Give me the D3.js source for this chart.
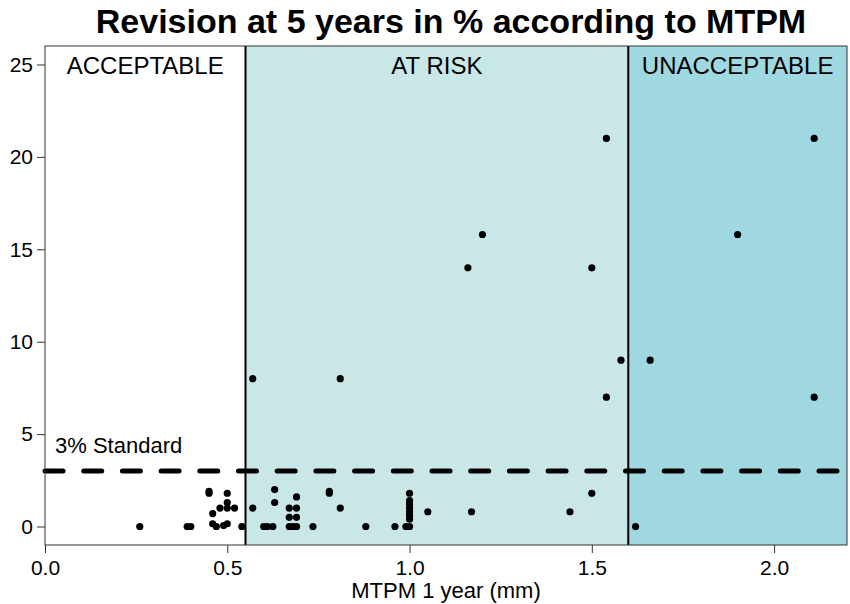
<!DOCTYPE html>
<html>
<head>
<meta charset="utf-8">
<script src="https://cdn.jsdelivr.net/npm/d3@7"></script>
<style>
  body { margin: 0; background: #fff; }
  svg { display: block; font-family: "Liberation Sans", Arial, sans-serif; }
</style>
</head>
<body>
<svg id="chart" width="850" height="604"></svg>
<script>
// MTPM at 1 year (mm) and revision at 5 years (%)
var mtpm = [
  0.57, 0.81, 1.16, 1.20, 1.54, 1.50, 1.58, 1.54, 1.66, 1.90, 2.11, 2.11,
  0.26, 0.39, 0.40,
  0.45, 0.45, 0.46, 0.46, 0.47,
  0.48, 0.50, 0.52, 0.50, 0.50, 0.49, 0.50,
  0.54, 0.57,
  0.60, 0.61, 0.625, 0.63, 0.63,
  0.67, 0.68, 0.69, 0.67, 0.69, 0.67, 0.69, 0.69,
  0.735, 0.78, 0.78, 0.81, 0.88, 0.96, 0.99, 1.00,
  1.00, 1.00, 1.00, 1.00, 1.00, 1.00, 1.00,
  1.05, 1.17, 1.44, 1.50, 1.62
];
var revision = [
  8, 8, 14, 15.8, 21, 14, 9, 7, 9, 15.8, 21, 7,
  0, 0, 0,
  1.9, 1.8, 0.7, 0.15, 0,
  1.0, 1.0, 1.0, 1.8, 1.3, 0.05, 0.15,
  0, 1.0,
  0, 0, 0, 2.0, 1.3,
  0, 0, 0, 0.5, 0.5, 1.0, 1.0, 1.6,
  0, 1.9, 1.8, 1.0, 0, 0, 0, 0,
  0.4, 0.6, 0.8, 1.0, 1.2, 1.4, 1.8,
  0.8, 0.8, 0.8, 1.8, 0
];

// zones on the x axis
var zoneNames = ["ACCEPTABLE", "AT RISK", "UNACCEPTABLE"];
var zoneStart = [0, 0.55, 1.6];
var zoneEnd = [0.55, 1.6, 2.2];
var zoneColors = ["#ffffff", "#c9e7e7", "#a0d8e2"];

var xTicks = [0, 0.5, 1.0, 1.5, 2.0];
var yTicks = [0, 5, 10, 15, 20, 25];
var standard = 3;

var margin = { top: 46, right: 3, bottom: 59, left: 45 };
var width = 850 - margin.left - margin.right;
var height = 604 - margin.top - margin.bottom;

var svg = d3.select("#chart");

var xScale = d3.scaleLinear().domain([0, 2.2]).range([0, width]);
var yScale = d3.scaleLinear().domain([-1, 26]).range([height, 0]);

// title
svg.append("text")
  .attr("x", 451).attr("y", 33)
  .attr("text-anchor", "middle")
  .attr("font-size", 34).attr("font-weight", "bold")
  .text("Revision at 5 years in % according to MTPM");

var chart = svg.append("g")
  .attr("transform", "translate(" + margin.left + "," + margin.top + ")");

// zone backgrounds
chart.selectAll("rect.zone").data(zoneNames)
  .enter().append("rect")
  .attr("class", "zone")
  .attr("x", function (d, i) { return xScale(zoneStart[i]); })
  .attr("y", 0)
  .attr("width", function (d, i) { return xScale(zoneEnd[i]) - xScale(zoneStart[i]); })
  .attr("height", height)
  .attr("fill", function (d, i) { return zoneColors[i]; });

// zone labels
chart.selectAll("text.zone").data(zoneNames)
  .enter().append("text")
  .attr("class", "zone")
  .attr("x", function (d, i) { return (xScale(zoneStart[i]) + xScale(zoneEnd[i])) / 2; })
  .attr("y", 28)
  .attr("text-anchor", "middle")
  .attr("font-size", 24)
  .text(function (d) { return d; });

// zone borders
chart.selectAll("line.border").data([0.55, 1.6])
  .enter().append("line")
  .attr("x1", function (d) { return xScale(d); })
  .attr("x2", function (d) { return xScale(d); })
  .attr("y1", 0).attr("y2", height)
  .attr("stroke", "#000").attr("stroke-width", 2);

// 3% standard
chart.append("line")
  .attr("x1", 0).attr("x2", width)
  .attr("y1", yScale(standard)).attr("y2", yScale(standard))
  .attr("stroke", "#000").attr("stroke-width", 5)
  .attr("stroke-linecap", "round")
  .attr("stroke-dasharray", "18,20.7");

chart.append("text")
  .attr("x", 10).attr("y", yScale(standard) - 18)
  .attr("font-size", 22)
  .text("3% Standard");

// points
chart.append("g").selectAll("circle").data(mtpm)
  .enter().append("circle")
  .attr("cx", function (d) { return xScale(d); })
  .attr("cy", function (d, i) { return yScale(revision[i]); })
  .attr("r", 3.6)
  .attr("fill", "#000");

// frame
chart.append("rect")
  .attr("width", width).attr("height", height)
  .attr("fill", "none").attr("stroke", "#333").attr("stroke-width", 1);

// axes
var xAxis = chart.append("g")
  .attr("transform", "translate(0," + height + ")")
  .call(d3.axisBottom(xScale).tickValues(xTicks).tickFormat(d3.format(".1f")).tickSize(8).tickSizeOuter(0));
var yAxis = chart.append("g")
  .call(d3.axisLeft(yScale).tickValues(yTicks).tickSize(8).tickSizeOuter(0));

[xAxis, yAxis].forEach(function (a) {
  a.select(".domain").remove();
  a.selectAll("line").attr("stroke", "#333");
  a.selectAll("text").attr("font-size", 21).attr("fill", "#000")
    .attr("font-family", "Liberation Sans, Arial, sans-serif");
});
xAxis.selectAll("text").attr("dy", "0.9em");
yAxis.selectAll("text").attr("x", -12);

// axis label
svg.append("text")
  .attr("x", margin.left + width / 2).attr("y", 598)
  .attr("text-anchor", "middle")
  .attr("font-size", 22)
  .text("MTPM 1 year (mm)");
</script>
</body>
</html>
